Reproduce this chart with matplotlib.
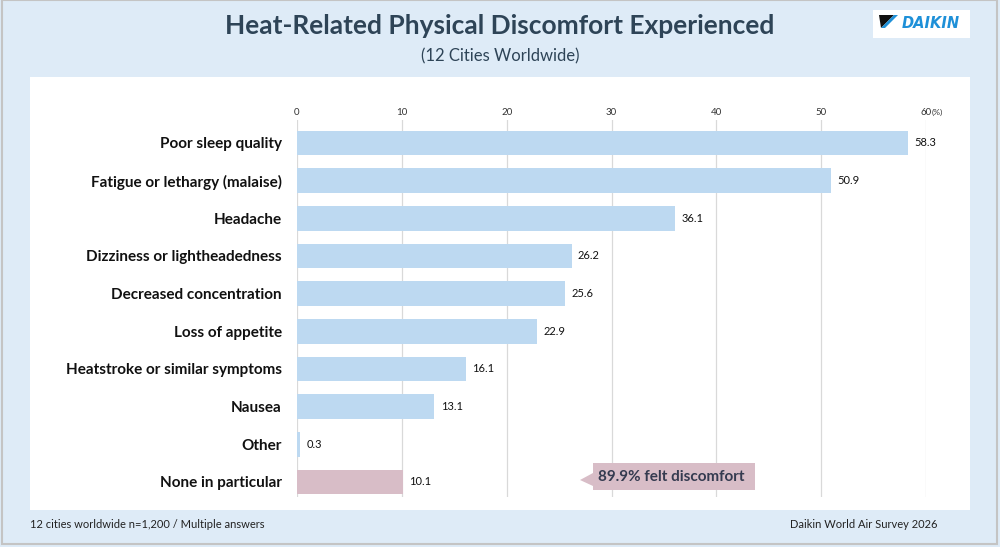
import matplotlib.pyplot as plt
from matplotlib.patches import Rectangle, Polygon

plt.rcParams['font.family'] = ['Lato', 'DejaVu Sans']

categories = ["Poor sleep quality", "Fatigue or lethargy (malaise)", "Headache",
              "Dizziness or lightheadedness", "Decreased concentration",
              "Loss of appetite", "Heatstroke or similar symptoms", "Nausea",
              "Other", "None in particular"]
values = [58.3, 50.9, 36.1, 26.2, 25.6, 22.9, 16.1, 13.1, 0.3, 10.1]
ticks = [0, 10, 20, 30, 40, 50, 60]

W, H = 1000, 547
BG = "#DEEBF7"
BLUE = "#BDD9F1"
PINK = "#D8BDC7"
DARK = "#2E4457"

fig = plt.figure(figsize=(W / 100, H / 100), dpi=100, facecolor=BG)


def px(x, y):
    return x / W, 1 - y / H


# outer border and white panel (behind the axes)
fig.patches.append(Rectangle(px(2, 544), 995 / W, 544 / H, transform=fig.transFigure,
                             facecolor="none", edgecolor="#C4C4C4", lw=1.5, zorder=-2))
fig.patches.append(Rectangle(px(30, 510), 940 / W, 433 / H, transform=fig.transFigure,
                             facecolor="white", edgecolor="none", zorder=-1))

# title
fig.text(0.5, px(0, 26)[1], "Heat-Related Physical Discomfort Experienced",
         ha="center", va="center", fontsize=19, fontweight="bold", color=DARK)
fig.text(0.5, px(0, 56)[1], "(12 Cities Worldwide)", ha="center", va="center",
         fontsize=12, color=DARK)

# logo
fig.patches.append(Rectangle(px(873, 38), 97 / W, 28 / H, transform=fig.transFigure,
                             facecolor="white", edgecolor="none"))
fig.patches.append(Polygon([px(879, 15), px(894, 15), px(881, 28)], closed=True,
                           transform=fig.transFigure, facecolor="#111111"))
fig.patches.append(Polygon([px(894, 15), px(898, 15), px(885, 28), px(881, 28)], closed=True,
                           transform=fig.transFigure, facecolor="#1E90D8"))
fig.text(*px(931, 23), "DAIKIN", ha="center", va="center", fontsize=10.5,
         fontweight="bold", style="italic", color="#1E90D8", family="DejaVu Sans")

# chart
ax = fig.add_axes([297 / W, 1 - 497 / H, 629 / W, 377 / H])
ax.set_facecolor("none")
y = list(range(len(categories)))
colors = [BLUE] * (len(categories) - 1) + [PINK]
ax.barh(y, values, height=0.66, color=colors, zorder=2)
ax.set_xlim(0, 60)
ax.set_ylim(9.4, -0.61)
ax.set_xticks(ticks)
ax.set_xticklabels([str(t) for t in ticks])
ax.xaxis.tick_top()
ax.tick_params(axis="x", length=0, pad=2.5, labelsize=7, labelcolor="#333333")
ax.set_yticks(y)
ax.set_yticklabels(categories)
ax.tick_params(axis="y", length=0, pad=11, labelsize=11)
for lab in ax.get_yticklabels():
    lab.set_fontweight("bold")
    lab.set_color("#111111")
ax.grid(axis="x", color="#D9D9D9", lw=0.9, zorder=0)
for s in ax.spines.values():
    s.set_visible(False)
ax.annotate("(%)", xy=(ticks[-1], 1), xycoords=("data", "axes fraction"),
            xytext=(4, 5.8), textcoords="offset points", ha="left", va="center",
            fontsize=6, color="#333333", annotation_clip=False)

for yi, v in zip(y, values):
    ax.text(v + 0.6, yi, f"{v}", va="center", ha="left", fontsize=8,
            color="#111111", clip_on=False)

# annotation callout
fig.patches.append(Polygon([px(593, 463), px(755, 463), px(755, 490), px(593, 490),
                            px(593, 486), px(580, 480), px(593, 473)], closed=True,
                           transform=fig.transFigure, facecolor=PINK, edgecolor="none",
                           zorder=3))
fig.text(*px(671, 477), "89.9% felt discomfort", ha="center", va="center",
         fontsize=11, fontweight="bold", color="#353B50", zorder=4)

# footnotes
fig.text(*px(30, 525), "12 cities worldwide n=1,200 / Multiple answers", ha="left",
         va="center", fontsize=8, color="#222222")
fig.text(*px(937, 525), "Daikin World Air Survey 2026", ha="right", va="center",
         fontsize=8, color="#222222")

fig.savefig("out.png", dpi=100, facecolor=BG)
